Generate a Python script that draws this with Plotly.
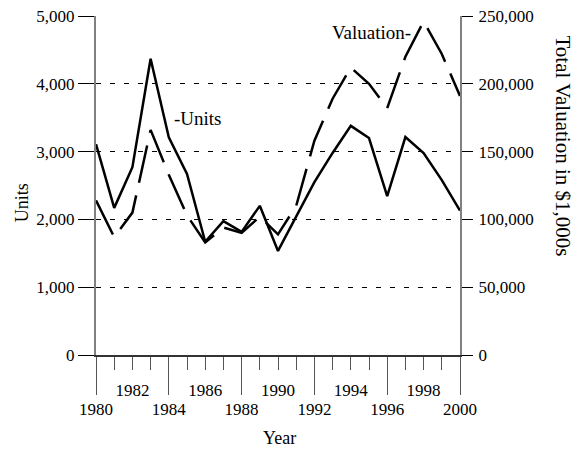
import plotly.graph_objects as go

years = list(range(1980, 2001))
units = [3110, 2170, 2770, 4370, 3210, 2670, 1670, 1975, 1815, 2200, 1535,
         2050, 2550, 2980, 3380, 3200, 2345, 3215, 2980, 2580, 2130]
valuation = [114000, 87000, 105000, 166000, 133000, 103000, 83000, 94000, 90000, 102000, 89000,
             110000, 158000, 189000, 212000, 200000, 182000, 220000, 246000, 222000, 191000]

major_years = [1980, 1984, 1988, 1992, 1996, 2000]
upper_label_years = [1982, 1986, 1990, 1994, 1998]
units_ticks = [0, 1000, 2000, 3000, 4000, 5000]
val_ticks = [0, 50000, 100000, 150000, 200000, 250000]

FONT = "Liberation Serif"

fig = go.Figure()
fig.add_trace(go.Scatter(x=years, y=units, mode="lines", name="Units",
                         line=dict(color="black", width=2.5), xaxis="x", yaxis="y"))
fig.add_trace(go.Scatter(x=years, y=valuation, mode="lines", name="Valuation",
                         line=dict(color="black", width=2.5, dash="38px,13px"),
                         xaxis="x", yaxis="y2"))
# invisible helper trace to host the staggered upper-row year labels
fig.add_trace(go.Scatter(x=years, y=units, mode="lines", opacity=0, hoverinfo="skip",
                         showlegend=False, xaxis="x3", yaxis="y"))

fig.update_layout(
    width=571, height=443,
    margin=dict(l=88, r=119, t=8, b=96, autoexpand=False),
    paper_bgcolor="white", plot_bgcolor="white",
    showlegend=False,
    font=dict(family=FONT, size=17, color="black"),
    xaxis=dict(range=[1980, 2000], tickmode="array", tickvals=major_years,
               ticks="outside", ticklen=38, tickwidth=1, tickcolor="#555",
               ticklabelstandoff=0, automargin=False, ticklabeloverflow="allow",
               minor=dict(tickmode="array", tickvals=years, ticks="outside",
                          ticklen=13, tickwidth=1, tickcolor="#555"),
               showline=True, linecolor="#333", linewidth=1.5,
               showgrid=False, zeroline=False, tickfont=dict(size=17)),
    xaxis3=dict(range=[1980, 2000], overlaying="x", anchor="y", side="bottom",
                tickmode="array", tickvals=upper_label_years, ticks="",
                ticklabelstandoff=23, automargin=False, ticklabeloverflow="allow",
                showline=False, showgrid=False, zeroline=False, tickfont=dict(size=17)),
    yaxis=dict(range=[0, 5000], tickmode="array", tickvals=units_ticks, tickformat=",d",
               ticks="outside", ticklen=16, tickwidth=1, tickcolor="black",
               automargin=False, ticklabeloverflow="allow",
               showline=True, linecolor="#808080", linewidth=2,
               showgrid=True, gridcolor="black", gridwidth=1, griddash="5px,9px",
               zeroline=False, tickfont=dict(size=17)),
    yaxis2=dict(range=[0, 250000], overlaying="y", side="right", anchor="x",
                tickmode="array", tickvals=val_ticks, tickformat=",d",
                ticks="outside", ticklen=11, tickwidth=1, tickcolor="black",
                ticklabelstandoff=2, automargin=False, ticklabeloverflow="allow",
                showline=True, linecolor="#808080", linewidth=2,
                showgrid=False, zeroline=False, tickfont=dict(size=17)),
    annotations=[
        dict(text="-Units", x=1984.2, y=3495, xref="x", yref="y", xanchor="left",
             yanchor="middle", showarrow=False, font=dict(size=19)),
        dict(text="Valuation-", x=1992.85, y=4750, xref="x", yref="y", xanchor="left",
             yanchor="middle", showarrow=False, font=dict(size=19)),
        dict(text="Units", x=-0.203, y=0.448, xref="paper", yref="paper", textangle=-90,
             xanchor="center", yanchor="middle", showarrow=False, font=dict(size=18)),
        dict(text="Year", x=0.503, y=-0.245, xref="paper", yref="paper",
             xanchor="center", yanchor="middle", showarrow=False, font=dict(size=18)),
        dict(text="Total Valuation in $1,000s", x=1.284, y=0.617, xref="paper", yref="paper",
             xanchor="center", yanchor="middle",
             textangle=90, showarrow=False, font=dict(size=21)),
    ],
)

fig.write_html("out.html")
